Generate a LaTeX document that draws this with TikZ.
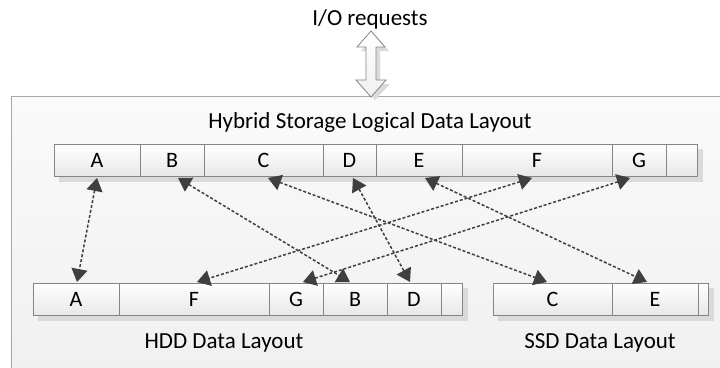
\documentclass[tikz,border=0pt]{standalone}
\usepackage{fontspec}
\setmainfont{Carlito}
\usetikzlibrary{arrows.meta,calc}
\definecolor{cellborder}{HTML}{858585}
\definecolor{shadowc}{HTML}{DADADA}
\definecolor{linkc}{HTML}{3F3F3F}
\definecolor{boxborder}{HTML}{A8A8A8}
\tikzset{
  cell/.style={draw=cellborder, line width=0.8pt, top color=white, bottom color=black!9,
    minimum height=32pt, inner sep=0pt, outer sep=0pt, anchor=north west, font=\fontsize{22}{24}\selectfont},
  rowshadow/.style={fill=shadowc, draw=none},
  lbl/.style={font=\fontsize{23}{26}\selectfont, anchor=base, inner sep=0pt},
  link/.style={draw=linkc, line width=1.5pt, dash pattern=on 3pt off 2pt,
    {Triangle[length=13pt,width=16pt]}-{Triangle[length=13pt,width=16pt]}},
}
\begin{document}
\begin{tikzpicture}[x=1pt,y=-1pt]
\useasboundingbox (0,0) rectangle (720,367);
\fill[white] (0,0) rectangle (720,367);
% outer container
\begin{scope}
\clip (0,0) rectangle (720,367);
\draw[boxborder, line width=0.9pt, top color=black!2, bottom color=black!6] (11,96) rectangle (730,380);
\end{scope}
% I/O label and double arrow
\node[lbl] (io) at (370,25) {I/O requests};
\fill[shadowc] (375,35) -- (389,51) -- (380,51) -- (380,84) -- (390,84) -- (375,100) -- (361,84) -- (370,84) -- (370,51) -- (361,51) -- cycle;
\draw[cellborder, line width=0.8pt, top color=white, bottom color=black!6]
  (371,31) -- (385,47) -- (376,47) -- (376,80) -- (386,80) -- (371,97) -- (356,80) -- (366,80) -- (366,47) -- (357,47) -- cycle;
% title
\node[lbl] (title) at (370,128) {Hybrid Storage Logical Data Layout};
% shadows
\fill[rowshadow] (59,149) rectangle (703,182);
\fill[rowshadow] (38,288) rectangle (468,321);
\fill[rowshadow] (498,288) rectangle (714,321);
% top row
\node[cell, minimum width=86pt] (tA) at (54,144) {A};
\node[cell, minimum width=64pt] (tB) at (140,144) {B};
\node[cell, minimum width=119pt] (tC) at (204,144) {C};
\node[cell, minimum width=53pt] (tD) at (323,144) {D};
\node[cell, minimum width=86pt] (tE) at (376,144) {E};
\node[cell, minimum width=150pt] (tF) at (462,144) {F};
\node[cell, minimum width=54pt] (tG) at (612,144) {G};
\node[cell, minimum width=31pt] (tX) at (666,144) {};
% HDD row
\node[cell, minimum width=86pt] (hA) at (33,283) {A};
\node[cell, minimum width=150pt] (hF) at (119,283) {F};
\node[cell, minimum width=54pt] (hG) at (269,283) {G};
\node[cell, minimum width=64pt] (hB) at (323,283) {B};
\node[cell, minimum width=54pt] (hD) at (387,283) {D};
\node[cell, minimum width=21pt] (hX) at (441,283) {};
% SSD row
\node[cell, minimum width=119pt] (sC) at (493,283) {C};
\node[cell, minimum width=86pt] (sE) at (612,283) {E};
\node[cell, minimum width=10pt] (sX) at (698,283) {};
% labels
\node[lbl] (hddl) at (224,348) {HDD Data Layout};
\node[lbl] (ssdl) at (600,348) {SSD Data Layout};
% links
\draw[link] ([yshift=-2pt]tA.south) -- ([xshift=1pt,yshift=1pt]hA.north);
\draw[link] ([xshift=6pt,yshift=-2pt]tB.south) -- ([xshift=-5pt,yshift=1pt]hB.north);
\draw[link] ([xshift=4.5pt,yshift=-2pt]tC.south) -- ([xshift=-5.5pt,yshift=1pt]sC.north);
\draw[link] ([xshift=3.5pt,yshift=-2pt]tD.south) -- ([xshift=-4pt,yshift=1pt]hD.north);
\draw[link] ([xshift=6pt,yshift=-2pt]tE.south) -- ([xshift=-8pt,yshift=1pt]sE.north);
\draw[link] ([xshift=-5pt,yshift=-2pt]tF.south) -- ([xshift=3pt,yshift=1pt]hF.north);
\draw[link] ([xshift=-9pt,yshift=-2pt]tG.south) -- ([xshift=7pt,yshift=1pt]hG.north);
\end{tikzpicture}
\end{document}
